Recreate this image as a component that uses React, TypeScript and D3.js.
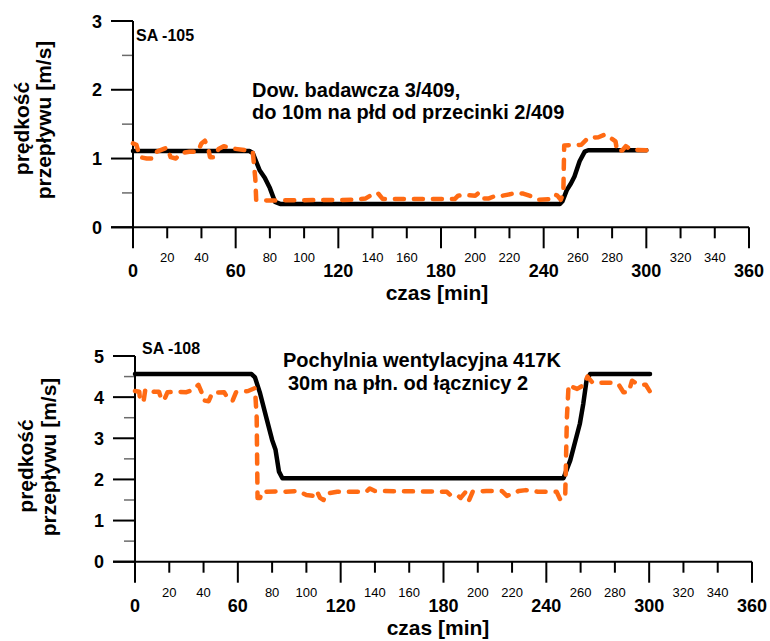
import React from "react";
import * as d3 from "d3";

// ---------- data ----------
const xTicks = [0, 20, 40, 60, 80, 100, 120, 140, 160, 180, 200, 220, 240, 260, 280, 300, 320, 340, 360];
const xMajorTicks = [0, 60, 120, 180, 240, 300, 360];

// SA-105
const topYTicks = [0, 1, 2, 3];
const topYMinor = [0.5, 1.5, 2.5];
const topBlackT = [0, 68, 70, 74, 77, 80, 83, 86, 249.5, 251, 253.5, 256, 258, 261, 264, 266, 300];
const topBlackV = [1.11, 1.11, 1.08, 0.83, 0.72, 0.57, 0.37, 0.34, 0.34, 0.38, 0.54, 0.64, 0.74, 0.96, 1.1, 1.12, 1.12];
const topOrangeT = [0, 2, 4, 8, 12, 14, 18, 20, 22, 25, 28, 33, 38, 40, 42, 44, 45, 48, 50, 53, 57, 66, 70, 71.5, 72, 78, 130, 136, 140, 143, 146, 188, 190, 193, 200, 202, 204, 208, 212, 216, 224, 228, 234, 237, 243, 246, 248, 250, 251.5, 252, 262, 266, 272, 276, 279, 282, 283, 286, 288, 291, 300];
const topOrangeV = [1.22, 1.2, 1.02, 1.0, 1.0, 1.1, 1.14, 1.16, 1.02, 1.0, 1.08, 1.1, 1.1, 1.22, 1.26, 1.15, 1.02, 1.02, 1.14, 1.18, 1.15, 1.12, 1.1, 0.7, 0.4, 0.39, 0.4, 0.42, 0.48, 0.5, 0.41, 0.41, 0.46, 0.47, 0.46, 0.5, 0.42, 0.42, 0.46, 0.46, 0.5, 0.49, 0.44, 0.4, 0.41, 0.48, 0.46, 0.4, 0.5, 1.19, 1.2, 1.3, 1.31, 1.35, 1.3, 1.25, 1.1, 1.12, 1.18, 1.13, 1.12];

// SA-108
const botYTicks = [0, 1, 2, 3, 4, 5];
const botYMinor = [0.5, 1.5, 2.5, 3.5, 4.5];
const botBlackT = [0, 68, 70, 73, 77, 80, 82, 84, 86, 250, 254, 259.6, 261.6, 263.5, 265.5, 300.5];
const botBlackV = [4.56, 4.56, 4.48, 4.09, 3.44, 2.96, 2.72, 2.19, 2.03, 2.03, 2.47, 3.36, 3.85, 4.42, 4.56, 4.56];
const botOrangeT = [0, 2.5, 3, 5, 6, 9, 11, 14, 15.5, 17, 19, 25, 30, 34, 37, 39, 40, 43, 45, 52, 55, 57, 59, 66, 70, 71, 71.5, 73, 74, 84, 88, 95, 100, 104, 106, 108, 110, 112, 118, 135, 137, 140, 182, 184, 188, 190, 193, 195, 197, 205, 214, 217, 220, 224, 228, 235, 246, 248, 251, 252, 253, 255, 258, 262, 264, 267, 278, 282, 285, 288, 290, 293, 298, 301];
const botOrangeV = [4.15, 4.13, 3.9, 3.9, 4.18, 4.18, 4.13, 4.13, 3.93, 3.93, 4.12, 4.13, 4.12, 4.18, 4.3, 4.1, 3.92, 3.9, 4.1, 4.12, 3.92, 3.92, 4.12, 4.15, 4.22, 3.5, 1.55, 1.55, 1.7, 1.71, 1.7, 1.72, 1.62, 1.6, 1.72, 1.55, 1.5, 1.66, 1.7, 1.7, 1.78, 1.72, 1.7, 1.62, 1.62, 1.55, 1.7, 1.5, 1.7, 1.72, 1.72, 1.6, 1.65, 1.72, 1.74, 1.7, 1.7, 1.52, 1.55, 3.5, 4.3, 4.25, 4.2, 4.3, 4.5, 4.35, 4.35, 4.32, 4.12, 4.12, 4.4, 4.32, 4.3, 4.1];

const FONT = "'Liberation Sans', Arial, Helvetica, sans-serif";
const ORANGE = "#ff6a13";

type PanelProps = {
  x0: number; x1: number; yTop: number; yBot: number; yMax: number;
  yTicks: number[]; yMinor: number[];
  blackT: number[]; blackV: number[]; orangeT: number[]; orangeV: number[];
  tag: string; tagX: number; tagY: number;
  notes: string[]; noteX: number[]; noteY: number[];
  titleX: number;
  yTitleCy: number[];
  yTitleX: number[];
};

function Panel(p: PanelProps) {
  const x = d3.scaleLinear().domain([0, 360]).range([p.x0, p.x1]);
  const y = d3.scaleLinear().domain([0, p.yMax]).range([p.yBot, p.yTop]);
  const line = d3.line<[number, number]>().x(d => x(d[0])).y(d => y(d[1]));
  const black = line(p.blackT.map((t, i) => [t, p.blackV[i]] as [number, number])) || "";
  const orange = line(p.orangeT.map((t, i) => [t, p.orangeV[i]] as [number, number])) || "";
  const y0 = y(0);
  return (
    <g fontFamily={FONT} fill="#000">
      {p.yMinor.map(v => (
        <line key={"ym" + v} x1={p.x0 - 11} x2={p.x0} y1={y(v)} y2={y(v)} stroke="#6b6b6b" strokeWidth={1.5} />
      ))}
      {p.yTicks.map(v => (
        <g key={"y" + v}>
          <line x1={p.x0 - 22} x2={p.x0} y1={y(v)} y2={y(v)} stroke="#000" strokeWidth={2} />
          <text x={p.x0 - 31} y={y(v) + 6.5} textAnchor="end" fontSize={18} fontWeight="bold">{v}</text>
        </g>
      ))}
      {xTicks.map(v => {
        const major = xMajorTicks.includes(v);
        return (
          <g key={"x" + v}>
            <line x1={x(v)} x2={x(v)} y1={y0} y2={y0 + (major ? 21 : 11)} stroke="#000" strokeWidth={2} />
            {major ? (
              <text x={x(v)} y={y0 + 50} textAnchor="middle" fontSize={18} fontWeight="bold">{v}</text>
            ) : (
              <text x={x(v)} y={y0 + 35} textAnchor="middle" fontSize={13}>{v}</text>
            )}
          </g>
        );
      })}
      <line x1={p.x0} x2={p.x0} y1={p.yTop} y2={y0 + 1} stroke="#000" strokeWidth={2} />
      <line x1={p.x0 - 22} x2={p.x1} y1={y0} y2={y0} stroke="#000" strokeWidth={2} />
      <path d={black} fill="none" stroke="#000" strokeWidth={4.5} strokeLinejoin="round" strokeLinecap="round" />
      <path d={orange} fill="none" stroke={ORANGE} strokeWidth={4.5} strokeDasharray="9,10" strokeLinejoin="round" strokeLinecap="round" />
      <text x={p.tagX} y={p.tagY} fontSize={16} fontWeight="bold">{p.tag}</text>
      {p.notes.map((n, i) => (
        <text key={"n" + i} x={p.noteX[i]} y={p.noteY[i]} fontSize={20} fontWeight="bold">{n}</text>
      ))}
      <text x={p.titleX} y={y0 + 73} textAnchor="middle" fontSize={21} fontWeight="bold">czas [min]</text>
      <text transform={`translate(${p.yTitleX[0]},${p.yTitleCy[0]}) rotate(-90)`} textAnchor="middle" fontSize={21} fontWeight="bold">prędkość</text>
      <text transform={`translate(${p.yTitleX[1]},${p.yTitleCy[1]}) rotate(-90)`} textAnchor="middle" fontSize={21} fontWeight="bold">przepływu [m/s]</text>
    </g>
  );
}

export default function App() {
  return (
    <svg width={770} height={641} style={{ position: "absolute", left: 0, top: 0, background: "#fff" }}>
      <rect width={770} height={641} fill="#fff" />
      <Panel
        x0={133} x1={749} yTop={21} yBot={227.3} yMax={3}
        yTicks={topYTicks} yMinor={topYMinor}
        blackT={topBlackT} blackV={topBlackV} orangeT={topOrangeT} orangeV={topOrangeV}
        tag="SA -105" tagX={136} tagY={40.5}
        notes={["Dow. badawcza 3/409,", "do 10m na płd od przecinki 2/409"]}
        noteX={[252, 252]} noteY={[97, 119]}
        titleX={437}
        yTitleCy={[128.5, 120]}
        yTitleX={[29, 51]}
      />
      <Panel
        x0={135} x1={752} yTop={356} yBot={561.7} yMax={5}
        yTicks={botYTicks} yMinor={botYMinor}
        blackT={botBlackT} blackV={botBlackV} orangeT={botOrangeT} orangeV={botOrangeV}
        tag="SA -108" tagX={142} tagY={354}
        notes={["Pochylnia wentylacyjna 417K", "30m na płn. od łącznicy 2"]}
        noteX={[283, 288]} noteY={[366.5, 390]}
        titleX={438}
        yTitleCy={[466, 457]}
        yTitleX={[33, 56]}
      />
    </svg>
  );
}
